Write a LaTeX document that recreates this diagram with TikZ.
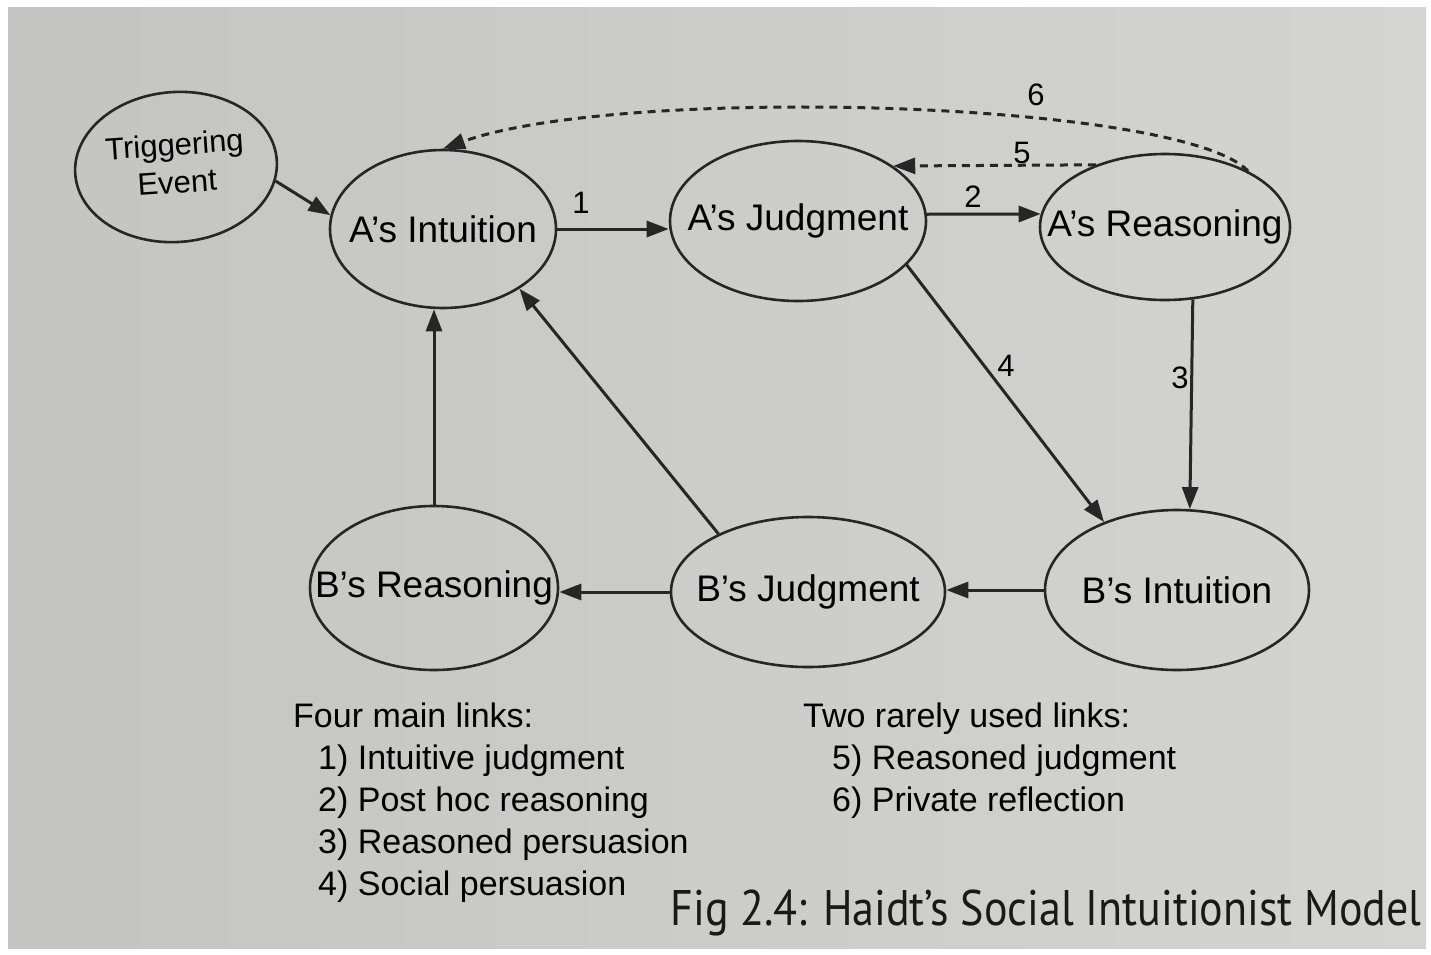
\documentclass[tikz,border=0pt]{standalone}
\usepackage{fontspec}
\setmainfont{Liberation Sans}
\newfontfamily\capfont[FakeStretch=0.88]{PT Sans}
\usetikzlibrary{shapes.geometric,arrows.meta,calc}
\definecolor{pageL}{RGB}{196,197,194}
\definecolor{pageR}{RGB}{212,213,210}
\begin{document}
\begin{tikzpicture}[x=1pt,y=-1pt,
  ell/.style={ellipse, draw=black!85, line width=2.6pt, inner sep=0pt, text=black, font=\fontsize{37}{40}\selectfont},
  link/.style={line width=3pt, draw=black!85, -{Triangle[length=22pt,width=16pt]}},
  rare/.style={line width=3pt, draw=black!85, dash pattern=on 8pt off 6pt, -{Triangle[length=22pt,width=16pt]}},
  num/.style={font=\fontsize{31}{34}\selectfont, inner sep=0pt, text=black},
  legend/.style={font=\fontsize{34}{42}\selectfont, inner sep=0pt, anchor=base west, text=black}]
\useasboundingbox (0,0) rectangle (1431,954);
\fill[white] (0,0) rectangle (1431,954);
\shade[left color=pageL, right color=pageR] (8,7) rectangle (1426,948);

% nodes
\node[ell, minimum width=202pt, minimum height=150pt, rotate=4, font=\fontsize{31}{36}\selectfont] (te) at (176,167)
  {\makebox[0pt]{\begin{tabular}{@{}c@{}}Triggering\\[2pt]Event\end{tabular}}};
\node[ell, minimum width=226pt, minimum height=158pt] (ai) at (443,229) {\makebox[0pt]{A’s Intuition}};
\node[ell, minimum width=256pt, minimum height=160pt] (aj) at (798,221) {\makebox[0pt]{A’s Judgment}};
\node[ell, minimum width=250pt, minimum height=146pt] (ar) at (1165,227) {\makebox[0pt]{A’s Reasoning}};
\node[ell, minimum width=248pt, minimum height=164pt] (br) at (434,588) {\makebox[0pt]{B’s Reasoning}};
\node[ell, minimum width=274pt, minimum height=150pt] (bj) at (808,592) {\makebox[0pt]{B’s Judgment}};
\node[ell, minimum width=264pt, minimum height=160pt] (bi) at (1177,590) {\makebox[0pt]{B’s Intuition}};

% connectors
\draw[link] (te.-12) -- (ai.173);
\draw[link] (ai.east) -- (ai.east -| aj.west);
\draw[link] (aj.3) -- (ar.174.5);
\draw[rare] (ar.138) -- (aj.30);
\draw[rare] (ar.34) .. controls (1180,100) and (620,85) .. (ai.north);
\draw[link] (ar.-69) -- (bi.81);
\draw[link] (aj.-22) -- (bi.137);
\draw[link] (bi.west) -- (bi.west -| bj.east);
\draw[link] (bj.west) -- (bj.west -| br.east);
\draw[link] (br.north) -- (br.north |- ai.south);
\draw[link] (bj.147) -- (ai.-38);

% link numbers
\node[num] (n1) at (581,203) {1};
\node[num] (n2) at (973,197) {2};
\node[num] (n5) at (1022,153) {5};
\node[num] (n6) at (1036,95) {6};
\node[num] (n4) at (1006,366) {4};
\node[num] (n3) at (1180,378) {3};

% legends
\node[legend] (l0) at (293,727) {Four main links:};
\node[legend] (l1) at (318,769) {1) Intuitive judgment};
\node[legend] (l2) at (318,811) {2) Post hoc reasoning};
\node[legend] (l3) at (318,853) {3) Reasoned persuasion};
\node[legend] (l4) at (318,895) {4) Social persuasion};
\node[legend] (r0) at (803,727) {Two rarely used links:};
\node[legend] (r1) at (832,769) {5) Reasoned judgment};
\node[legend] (r2) at (832,811) {6) Private reflection};

% caption
\node[inner sep=0pt, anchor=base east, font=\capfont\fontsize{50}{56}\selectfont, text=black!90] (cap) at (1422,925)
  {Fig 2.4: Haidt’s Social Intuitionist Model};
\end{tikzpicture}
\end{document}
